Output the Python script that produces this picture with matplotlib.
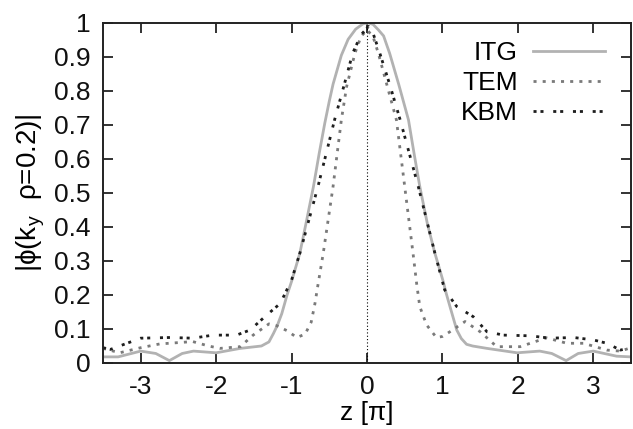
import numpy as np
import matplotlib.pyplot as plt

plt.rcParams['font.family'] = ['Liberation Sans', 'DejaVu Sans']

# ITG mode structure (z in units of pi)
z_itg = [-3.5, -3.3, -3.0, -2.8, -2.62, -2.45, -2.3, -2.0, -1.68, -1.4, -1.3, -1.24, -1.19,
         -1.13, -1.06, -1.0, -0.89, -0.8, -0.71, -0.635, -0.56, -0.5, -0.45, -0.34, -0.25, -0.15,
         -0.05, 0.02, 0.08, 0.15, 0.22, 0.30, 0.42, 0.55, 0.625, 0.70, 0.80, 0.90, 1.01,
         1.05, 1.10, 1.19, 1.25, 1.32, 1.4, 1.59, 1.99, 2.29, 2.45, 2.64, 2.8, 3.0, 3.31, 3.5]
phi_itg = [0.018, 0.018, 0.035, 0.028, 0.007, 0.028, 0.035, 0.03, 0.043, 0.05, 0.062, 0.087, 0.11,
           0.145, 0.2, 0.24, 0.323, 0.42, 0.519, 0.615, 0.705, 0.77, 0.82, 0.905, 0.952, 0.982,
           0.998, 1.0, 0.996, 0.98, 0.962, 0.911, 0.82, 0.715, 0.615, 0.519, 0.41, 0.323, 0.24,
           0.205, 0.166, 0.097, 0.072, 0.055, 0.05, 0.043, 0.03, 0.035, 0.028, 0.007, 0.028, 0.035, 0.02, 0.018]

# TEM
z_tem = [-3.5, -3.28, -3.0, -2.75, -2.5, -2.31, -2.1, -1.95, -1.68, -1.51, -1.3, -1.2,
         -1.06, -0.93, -0.82, -0.74, -0.69, -0.65, -0.58, -0.45, -0.34, -0.27, -0.16,
         -0.08, 0.0, 0.08, 0.15, 0.27, 0.39, 0.50, 0.61, 0.66, 0.70, 0.79, 0.92, 1.0,
         1.1, 1.3, 1.5, 1.72, 2.03, 2.38, 2.65, 2.87, 3.18, 3.36, 3.5]
phi_tem = [0.043, 0.03, 0.045, 0.056, 0.06, 0.063, 0.05, 0.043, 0.048, 0.082, 0.115, 0.11,
           0.095, 0.075, 0.085, 0.12, 0.175, 0.23, 0.323, 0.519, 0.715, 0.813, 0.911,
           0.96, 0.98, 0.96, 0.911, 0.813, 0.715, 0.519, 0.323, 0.23, 0.166, 0.112, 0.075, 0.078,
           0.092, 0.122, 0.092, 0.048, 0.048, 0.074, 0.058, 0.058, 0.038, 0.035, 0.045]

# KBM
z_kbm = [-3.5, -3.4, -3.28, -3.0, -2.61, -2.31, -2.04, -1.73, -1.55, -1.33, -1.15,
         -1.0, -0.89, -0.65, -0.43, -0.30, -0.19, -0.08, 0.02, 0.08, 0.17, 0.30, 0.44,
         0.68, 0.90, 1.03, 1.19, 1.41, 1.59, 1.81, 2.16, 2.43, 2.74, 3.0, 3.18, 3.36, 3.5]
phi_kbm = [0.045, 0.04, 0.05, 0.073, 0.075, 0.073, 0.082, 0.082, 0.097, 0.141, 0.175,
           0.244, 0.323, 0.519, 0.715, 0.82, 0.911, 0.965, 0.99, 0.97, 0.911, 0.82, 0.715,
           0.519, 0.323, 0.215, 0.166, 0.136, 0.092, 0.082, 0.08, 0.073, 0.075, 0.068, 0.058, 0.038, 0.045]

xticks = [-3, -2, -1, 0, 1, 2, 3]
yticks = [0, 0.1, 0.2, 0.3, 0.4, 0.5, 0.6, 0.7, 0.8, 0.9, 1]
ytick_labels = ['0', '0.1', '0.2', '0.3', '0.4', '0.5', '0.6', '0.7', '0.8', '0.9', '1']

fig = plt.figure(figsize=(6.33, 4.29), dpi=100)
ax = fig.add_axes([103/633, 1 - 363/429, 528/633, 340/429])

ax.plot([0, 0], [0, 1], color='black', lw=0.8, ls=(0, (1, 2)))
ax.plot(z_itg, phi_itg, color='#b2b2b2', lw=2, label='ITG')
ax.plot(z_tem, phi_tem, color='#7a7a7a', lw=2, ls=(0, (1.1, 2.2)), label='TEM')
ax.plot(z_kbm, phi_kbm, color='#1e1e1e', lw=2, ls=(0, (1.1, 1.4, 1.1, 3.5)), label='KBM')

ax.set_xlim(-3.5, 3.5)
ax.set_ylim(0, 1)
ax.set_xticks(xticks)
ax.set_xticklabels([str(t) for t in xticks])
ax.set_yticks(yticks)
ax.set_yticklabels(ytick_labels)
ax.tick_params(direction='in', length=7, width=1.2, top=True, right=True,
               labelsize=19, pad=9, colors='#111111')
for s in ax.spines.values():
    s.set_linewidth(1.4)
    s.set_color('#222222')

ax.set_xlabel('z [π]', fontsize=19, labelpad=1)
ax.set_ylabel('|ϕ(k$_\\mathregular{y}$  ρ=0.2)|', fontsize=20, labelpad=5)

ax.legend(loc='upper right', frameon=False, markerfirst=False, fontsize=19,
          handlelength=2.7, handletextpad=0.6, labelspacing=0.22,
          borderaxespad=0.3, bbox_to_anchor=(0.985, 1.0))

fig.savefig('out.png', dpi=100)
